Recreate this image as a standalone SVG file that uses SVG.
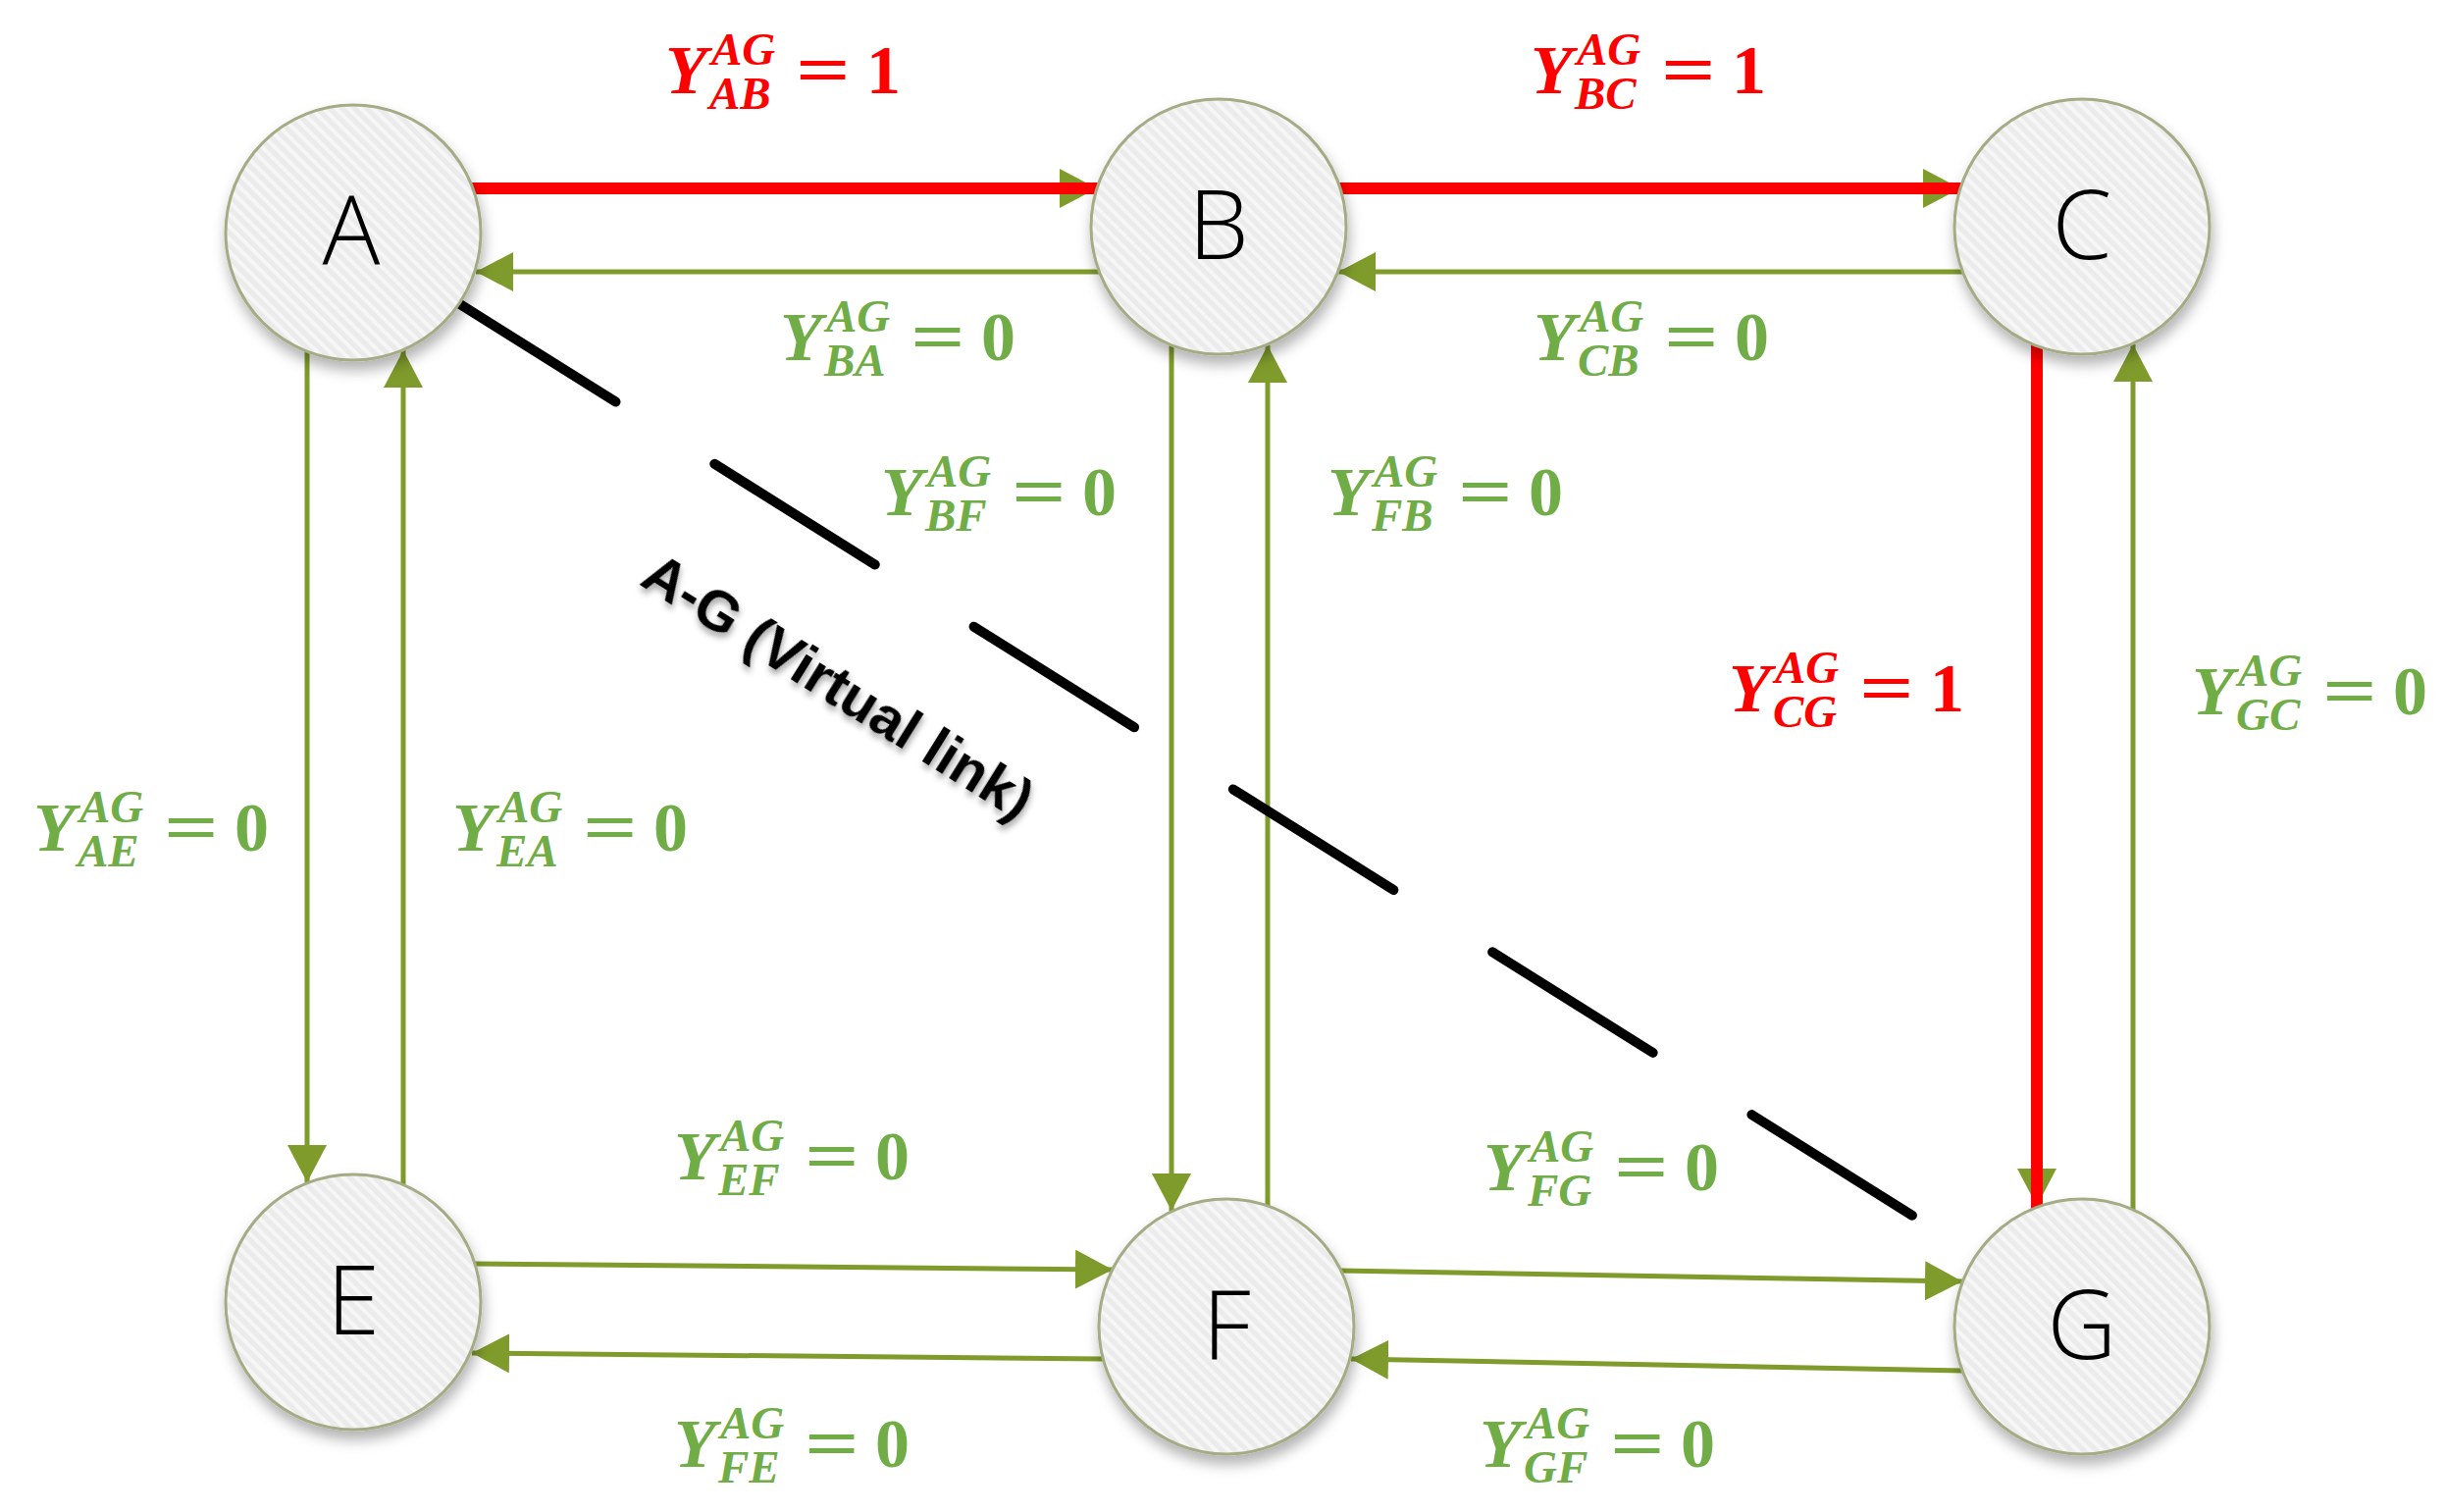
<svg xmlns="http://www.w3.org/2000/svg" width="2493" height="1541" viewBox="0 0 2493 1541">
<style>
.e{stroke:#7F9B2B;stroke-width:5;fill:none;marker-end:url(#arr)}
.r{stroke:#FF0000;stroke-width:12;stroke-linecap:round;fill:none}
.v{stroke:#000;stroke-width:10;stroke-linecap:round;stroke-dasharray:193 119;fill:none}
.node circle{fill:url(#hatch);stroke:#A4AC86;stroke-width:3;filter:url(#sh)}
.node text{font-family:"Open Sans","DejaVu Sans",sans-serif;font-weight:300;font-size:98px;fill:#000;text-anchor:middle}
.lg{fill:#70AD47}
.lr{fill:#FF0000}
.Y{font-family:"Liberation Serif",serif;font-weight:bold;font-style:italic;font-size:70px}
.s{font-family:"Liberation Serif",serif;font-weight:bold;font-style:italic;font-size:47px}
.n{font-family:"Liberation Serif",serif;font-weight:bold;font-size:70px}
.vl{font-family:"Liberation Sans",Arial,sans-serif;font-weight:bold;font-size:58px;fill:#000;text-anchor:middle;filter:url(#tsh)}
</style>
<defs>
<pattern id="hatch" width="9" height="9" patternUnits="userSpaceOnUse" patternTransform="rotate(-45)">
<rect width="9" height="9" fill="#ebebeb"/>
<rect width="4" height="9" fill="#f6f6f6"/>
</pattern>
<filter id="sh" x="-30%" y="-30%" width="160%" height="170%">
<feDropShadow dx="2" dy="9" stdDeviation="7" flood-color="#000" flood-opacity="0.3"/>
</filter>
<filter id="tsh" x="-10%" y="-30%" width="120%" height="160%">
<feDropShadow dx="3" dy="4" stdDeviation="3" flood-color="#000" flood-opacity="0.35"/>
</filter>
<marker id="arr" markerUnits="userSpaceOnUse" markerWidth="40" markerHeight="40" refX="38" refY="20" orient="auto" viewBox="0 0 40 40">
<path d="M0,0 L38,20 L0,40 Z" fill="#7F9B2B"/>
</marker>
</defs>
<rect width="2493" height="1541" fill="#fff"/>

<g id="connectors">
<line class="e" x1="482" y1="192" x2="1118" y2="192"/>
<line class="e" x1="1120" y1="277" x2="485" y2="277"/>
<line class="e" x1="1362" y1="192" x2="1998" y2="192"/>
<line class="e" x1="2000" y1="277" x2="1364" y2="277"/>
<line class="e" x1="313" y1="358" x2="313" y2="1205"/>
<line class="e" x1="411" y1="1207" x2="411" y2="357"/>
<line class="e" x1="1194" y1="352" x2="1194" y2="1234"/>
<line class="e" x1="1292" y1="1229" x2="1292" y2="352"/>
<line class="e" x1="2076" y1="353" x2="2076" y2="1229"/>
<line class="e" x1="2174" y1="1233" x2="2174" y2="351"/>
<line class="e" x1="484" y1="1288" x2="1134" y2="1294"/>
<line class="e" x1="1124" y1="1385" x2="481" y2="1379"/>
<line class="e" x1="1366" y1="1295" x2="2000" y2="1306"/>
<line class="e" x1="2001" y1="1397" x2="1377" y2="1385"/>
<line class="r" x1="477" y1="192" x2="1122" y2="192"/>
<line class="r" x1="1361" y1="192" x2="2002" y2="192"/>
<line class="r" x1="2076" y1="351" x2="2076" y2="1234"/>
<line class="v" x1="464" y1="307" x2="1951" y2="1240"/>
<text class="vl" transform="translate(844,716) rotate(32)">A-G (Virtual link)</text>
</g>

<g id="node-A" class="node"><circle cx="360" cy="237" r="130"/><text x="358" y="270">A</text></g>
<g id="node-B" class="node"><circle cx="1242" cy="231" r="130"/><text x="1242" y="264">B</text></g>
<g id="node-C" class="node"><circle cx="2122" cy="231" r="130"/><text x="2122" y="264">C</text></g>
<g id="node-E" class="node"><circle cx="360" cy="1327" r="130"/><text x="360" y="1360">E</text></g>
<g id="node-F" class="node"><circle cx="1250" cy="1352" r="130"/><text x="1250" y="1385">F</text></g>
<g id="node-G" class="node"><circle cx="2122" cy="1352" r="130"/><text x="2122" y="1385">G</text></g>

<g id="labels">
<g class="lr" transform="translate(678,95)"><text class="Y">Y</text><text class="s" x="47" y="-29">AG</text><text class="s" x="45" y="16">AB</text><text class="n" transform="translate(133,0) scale(1.4,1)">=</text><text class="n" x="205">1</text></g>
<g class="lr" transform="translate(1560,95)"><text class="Y">Y</text><text class="s" x="47" y="-29">AG</text><text class="s" x="45" y="16">BC</text><text class="n" transform="translate(133,0) scale(1.4,1)">=</text><text class="n" x="205">1</text></g>
<g class="lg" transform="translate(795,367)"><text class="Y">Y</text><text class="s" x="47" y="-29">AG</text><text class="s" x="45" y="16">BA</text><text class="n" transform="translate(133,0) scale(1.4,1)">=</text><text class="n" x="205">0</text></g>
<g class="lg" transform="translate(1563,367)"><text class="Y">Y</text><text class="s" x="47" y="-29">AG</text><text class="s" x="45" y="16">CB</text><text class="n" transform="translate(133,0) scale(1.4,1)">=</text><text class="n" x="205">0</text></g>
<g class="lg" transform="translate(898,525)"><text class="Y">Y</text><text class="s" x="47" y="-29">AG</text><text class="s" x="45" y="16">BF</text><text class="n" transform="translate(133,0) scale(1.4,1)">=</text><text class="n" x="205">0</text></g>
<g class="lg" transform="translate(1353,525)"><text class="Y">Y</text><text class="s" x="47" y="-29">AG</text><text class="s" x="45" y="16">FB</text><text class="n" transform="translate(133,0) scale(1.4,1)">=</text><text class="n" x="205">0</text></g>
<g class="lr" transform="translate(1762,725)"><text class="Y">Y</text><text class="s" x="47" y="-29">AG</text><text class="s" x="45" y="16">CG</text><text class="n" transform="translate(133,0) scale(1.4,1)">=</text><text class="n" x="205">1</text></g>
<g class="lg" transform="translate(2234,728)"><text class="Y">Y</text><text class="s" x="47" y="-29">AG</text><text class="s" x="45" y="16">GC</text><text class="n" transform="translate(133,0) scale(1.4,1)">=</text><text class="n" x="205">0</text></g>
<g class="lg" transform="translate(34,867)"><text class="Y">Y</text><text class="s" x="47" y="-29">AG</text><text class="s" x="45" y="16">AE</text><text class="n" transform="translate(133,0) scale(1.4,1)">=</text><text class="n" x="205">0</text></g>
<g class="lg" transform="translate(461,867)"><text class="Y">Y</text><text class="s" x="47" y="-29">AG</text><text class="s" x="45" y="16">EA</text><text class="n" transform="translate(133,0) scale(1.4,1)">=</text><text class="n" x="205">0</text></g>
<g class="lg" transform="translate(687,1202)"><text class="Y">Y</text><text class="s" x="47" y="-29">AG</text><text class="s" x="45" y="16">EF</text><text class="n" transform="translate(133,0) scale(1.4,1)">=</text><text class="n" x="205">0</text></g>
<g class="lg" transform="translate(1512,1213)"><text class="Y">Y</text><text class="s" x="47" y="-29">AG</text><text class="s" x="45" y="16">FG</text><text class="n" transform="translate(133,0) scale(1.4,1)">=</text><text class="n" x="205">0</text></g>
<g class="lg" transform="translate(687,1495)"><text class="Y">Y</text><text class="s" x="47" y="-29">AG</text><text class="s" x="45" y="16">FE</text><text class="n" transform="translate(133,0) scale(1.4,1)">=</text><text class="n" x="205">0</text></g>
<g class="lg" transform="translate(1508,1495)"><text class="Y">Y</text><text class="s" x="47" y="-29">AG</text><text class="s" x="45" y="16">GF</text><text class="n" transform="translate(133,0) scale(1.4,1)">=</text><text class="n" x="205">0</text></g>
</g>
</svg>
